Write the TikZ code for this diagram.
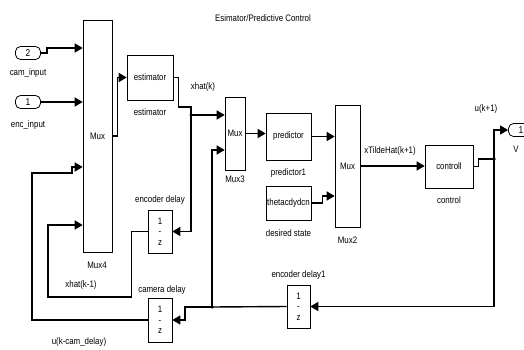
\documentclass[tikz,border=0pt]{standalone}
\usepackage{fontspec}
\setmainfont{Liberation Sans}[FakeStretch=0.84]
\usetikzlibrary{arrows.meta,calc}
\begin{document}
\begin{tikzpicture}[x=1pt,y=-1pt,
  font=\fontsize{9.4}{10}\selectfont,
  blk/.style={draw,line width=0.6pt,inner sep=0pt,align=center},
  dly/.style={blk,font=\fontsize{9.4}{9.4}\selectfont},
  port/.style={draw,line width=0.8pt,rounded corners=5pt,minimum width=25pt,minimum height=13pt,inner sep=0pt,font=\fontsize{10}{10}\selectfont},
  sig/.style={line width=1.4pt},
  arr/.style={sig,-{Triangle[length=8pt,width=9pt]}},
  lbl/.style={inner sep=0pt},
  dot/.style={circle,fill,inner sep=0pt,minimum size=3.5pt}]
\useasboundingbox (0,0) rectangle (524,350);
% title
\node[lbl] (title) at (263,18) {Esimator/Predictive Control};
% ports
\node[port] (in2) at (28,53) {2};
\node[port] (in1) at (28,102) {1};
\node[port] (outV) at (521,130) {1};
\node[lbl] (lcam) at (28,73) {cam\_input};
\node[lbl] (lenc) at (28,125) {enc\_input};
\node[lbl] (lV) at (516,149) {V};
% blocks
\node[blk,minimum width=29pt,minimum height=232pt] (mux4) at (97.5,136) {Mux};
\node[lbl] (lmux4) at (97,265) {Mux4};
\node[blk,minimum width=46pt,minimum height=45pt] (est) at (150,77.5) {estimator};
\node[lbl] (lest) at (150,112) {estimator};
\node[dly,minimum width=24pt,minimum height=43pt] (encd) at (160,231.5) {1\\[1pt]-\\[1pt]z};
\node[lbl] (lencd) at (160,200) {encoder delay};
\node[dly,minimum width=24pt,minimum height=44pt] (camd) at (160,320) {1\\[1pt]-\\[1pt]z};
\node[lbl] (lcamd) at (162,290) {camera delay};
\node[blk,minimum width=20pt,minimum height=73pt] (mux3) at (235,133.5) {Mux};
\node[lbl] (lmux3) at (235,179) {Mux3};
\node[blk,minimum width=45pt,minimum height=47pt] (pred) at (288.5,136.5) {predictor};
\node[lbl] (lpred) at (288.5,173) {predictor1};
\node[blk,minimum width=45pt,minimum height=34pt] (des) at (288.5,203) {thetacdydcn};
\node[lbl] (ldes) at (288.5,233) {desired state};
\node[blk,minimum width=25pt,minimum height=122pt] (mux2) at (347.5,166) {Mux};
\node[lbl] (lmux2) at (347.5,240) {Mux2};
\node[blk,minimum width=48pt,minimum height=43pt] (ctrl) at (449,166.5) {controll};
\node[lbl] (lctrl) at (449,200) {control};
\node[dly,minimum width=23pt,minimum height=43pt] (encd1) at (298.5,306.5) {1\\[1pt]-\\[1pt]z};
\node[lbl] (lencd1) at (298.5,275) {encoder delay1};
% signal labels
\node[lbl] (lxk) at (203,87) {xhat(k)};
\node[lbl] (lxk1) at (81,285) {xhat(k-1)};
\node[lbl] (lucam) at (79,342) {u(k-cam\_delay)};
\node[lbl] (lxt) at (390,151) {xTildeHat(k+1)};
\node[lbl] (luk) at (486,109) {u(k+1)};
% branch points
\node[dot] (b1) at (191,115) {};
\node[dot] (b2) at (212,307) {};
\node[dot] (b3) at (494,159) {};
% connectors
\draw[arr] (in2.east) -- ++(6,0) |- (mux4.west |- 0,48);
\draw[arr] (in1.east) -- (mux4.west |- in1.east);
\draw[arr] (mux4.east) -- ++(5,0) |- (est.west);
\draw[sig] (est.east) -- ++(5,0) |- (183,107) -| (b1.center);
\draw[arr] (b1.center) -- (mux3.west |- b1.center);
\draw[arr] (b1.center) |- (encd.east);
\draw[arr] (encd.west) -- ++(-16,0) |- (48,297) |- (mux4.west |- 0,225);
\draw[arr] (camd.west) -| (32,173) -| (72,167) -- (mux4.west |- 0,167);
\draw[arr] (mux3.east) -- (pred.west |- mux3.east);
\draw[arr] (pred.east) -- (mux2.west |- pred.east);
\draw[arr] (des.east) -- ++(11,0) |- (mux2.west |- 0,196);
\draw[arr] (mux2.east) -- (ctrl.west |- mux2.east);
\draw[sig] (ctrl.east) -- ++(5,0) |- (b3.center);
\draw[arr] (b3.center) |- (outV.west);
\draw[arr] (b3.center) |- (encd1.east);
\draw[sig] (encd1.west) -- (b2.center);
\draw[arr] (b2.center) |- (mux3.west |- 0,150);
\draw[arr] (b2.center) -| (185,320) -- (camd.east);
\end{tikzpicture}
\end{document}
